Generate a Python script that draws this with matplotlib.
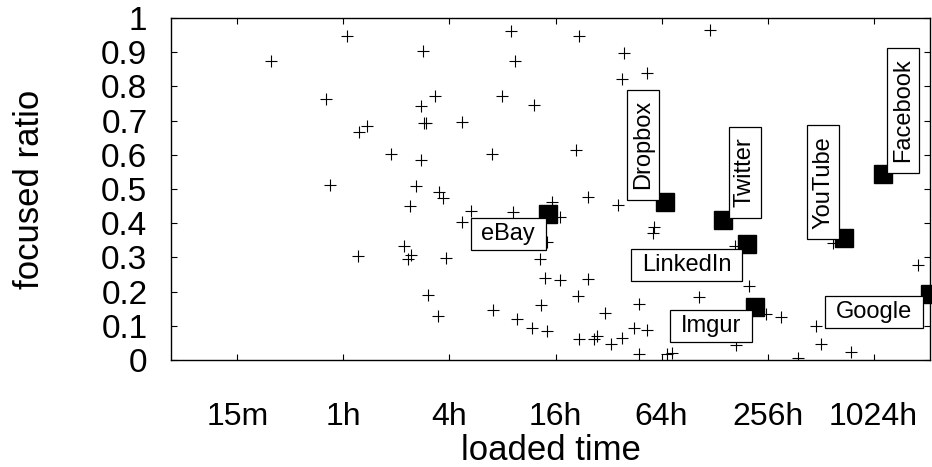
import numpy as np
import matplotlib
matplotlib.use('Agg')
import matplotlib.pyplot as plt
from matplotlib.path import Path

plt.rcParams['font.family'] = ['Liberation Sans', 'DejaVu Sans']

# all sites: loaded time (hours) vs focused ratio
loaded_hours = [1.045, 0.389, 0.795, 1.228, 1.368, 1.858, 0.840, 2.569, 2.833, 8.98,
                21.67, 9.39, 39.15, 52.7, 38.0, 3.327, 2.760, 7.95, 12.03, 2.852,
                2.927, 4.70, 2.767, 6.95, 21.0, 3.469, 3.670, 24.6, 120.9, 2.375,
                36.06, 5.30, 9.22, 15.29, 4.716, 16.97, 14.32, 12.98, 57.6, 57.0,
                2.196, 2.406, 2.329, 3.836, 1.207, 14.00, 16.86, 24.47, 3.005, 21.47,
                3.460, 7.04, 13.24, 9.71, 11.72, 14.26, 21.67, 26.46, 27.41, 30.55,
                33.04, 38.0, 47.8, 44.9, 53.1, 47.8, 68.7, 73.8, 167.0, 200.5,
                105.0, 252.0, 306.5, 484.0, 513.6, 381.8, 169.2, 601.0, 757.0, 1840.0]
focused_ratio = [0.947, 0.874, 0.764, 0.668, 0.685, 0.603, 0.513, 0.510, 0.903, 0.963,
                 0.948, 0.873, 0.899, 0.839, 0.822, 0.771, 0.744, 0.773, 0.745, 0.693,
                 0.692, 0.696, 0.585, 0.601, 0.614, 0.491, 0.475, 0.478, 0.965, 0.450,
                 0.453, 0.436, 0.433, 0.463, 0.404, 0.419, 0.346, 0.296, 0.390, 0.370,
                 0.332, 0.307, 0.295, 0.299, 0.305, 0.241, 0.235, 0.236, 0.189, 0.187,
                 0.129, 0.146, 0.161, 0.119, 0.094, 0.085, 0.061, 0.061, 0.070, 0.136,
                 0.046, 0.063, 0.165, 0.094, 0.088, 0.018, 0.019, 0.020, 0.333, 0.216,
                 0.183, 0.134, 0.127, 0.099, 0.048, 0.007, 0.044, 0.342, 0.0225, 0.277]

# highlighted sites
sites = ['eBay', 'Dropbox', 'Twitter', 'LinkedIn', 'Imgur', 'YouTube', 'Facebook', 'Google']
site_hours = [14.56, 66.9, 143.3, 194.6, 218.3, 693.6, 1154.0, 2140.0]
site_ratio = [0.427, 0.463, 0.409, 0.338, 0.156, 0.356, 0.544, 0.194]

# label placement (offset in points from the square, rotation)
label_pos = {
    'eBay': (-28.9, -14.2, 0),
    'Dropbox': (-16.0, 40.9, 90),
    'Twitter': (15.4, 34.6, 90),
    'LinkedIn': (-43.1, -14.5, 0),
    'Imgur': (-31.8, -14.0, 0),
    'YouTube': (-14.9, 40.4, 90),
    'Facebook': (14.6, 45.9, 90),
    'Google': (-40.5, -13.5, 0),
}

tick_hours = [0.25, 1, 4, 16, 64, 256, 1024]
tick_labels = ['15m', '1h', '4h', '16h', '64h', '256h', '1024h']
y_ticks = np.round(np.arange(0, 1.01, 0.1), 1)
y_labels = ['0'] + ['%.1f' % v for v in y_ticks[1:-1]] + ['1']


def label_box(x0, y0, width, height, mutation_size):
    px = 0.45 * mutation_size
    py = 0.21 * mutation_size
    x0, y0 = x0 - px, y0 - py
    x1, y1 = x0 + width + 2 * px, y0 + height + 2 * py
    return Path([(x0, y0), (x1, y0), (x1, y1), (x0, y1), (x0, y0)], closed=True)


fig = plt.figure(figsize=(9.32, 4.67), dpi=100)
ax = fig.add_axes([0.1835, 0.2291, 0.8144, 0.7324])

ax.plot(loaded_hours, focused_ratio, linestyle='none', marker='+',
        markersize=9, markeredgewidth=0.8, color='black', zorder=2)
ax.plot(site_hours, site_ratio, linestyle='none', marker='s',
        markersize=13, color='black', clip_on=False, zorder=3)

for name, x, y in zip(sites, site_hours, site_ratio):
    dx, dy, rot = label_pos[name]
    ax.annotate(name, xy=(x, y), xytext=(dx, dy), textcoords='offset points',
                ha='center', va='center', rotation=rot, fontsize=17, zorder=4,
                bbox=dict(boxstyle=label_box, facecolor='white',
                          edgecolor='black', linewidth=0.9))

ax.set_xscale('log')
ax.set_xlim(0.105, 2140)
ax.set_ylim(0, 1)
ax.set_xticks(tick_hours)
ax.set_xticklabels(tick_labels)
ax.xaxis.set_minor_locator(matplotlib.ticker.NullLocator())
ax.set_yticks(y_ticks)
ax.set_yticklabels(y_labels)

ax.tick_params(axis='both', direction='in', length=4.5, width=0.8,
               top=True, right=True, labelsize=23)
ax.tick_params(axis='x', pad=30)
ax.tick_params(axis='y', labelsize=24, pad=17)
for s in ax.spines.values():
    s.set_linewidth(1.0)

ax.set_xlabel('loaded time', fontsize=25)
ax.set_ylabel('focused ratio', fontsize=25)
ax.xaxis.set_label_coords(0.5, -0.215)
ax.yaxis.set_label_coords(-0.165, 0.5)

fig.savefig('out.png', dpi=100)
